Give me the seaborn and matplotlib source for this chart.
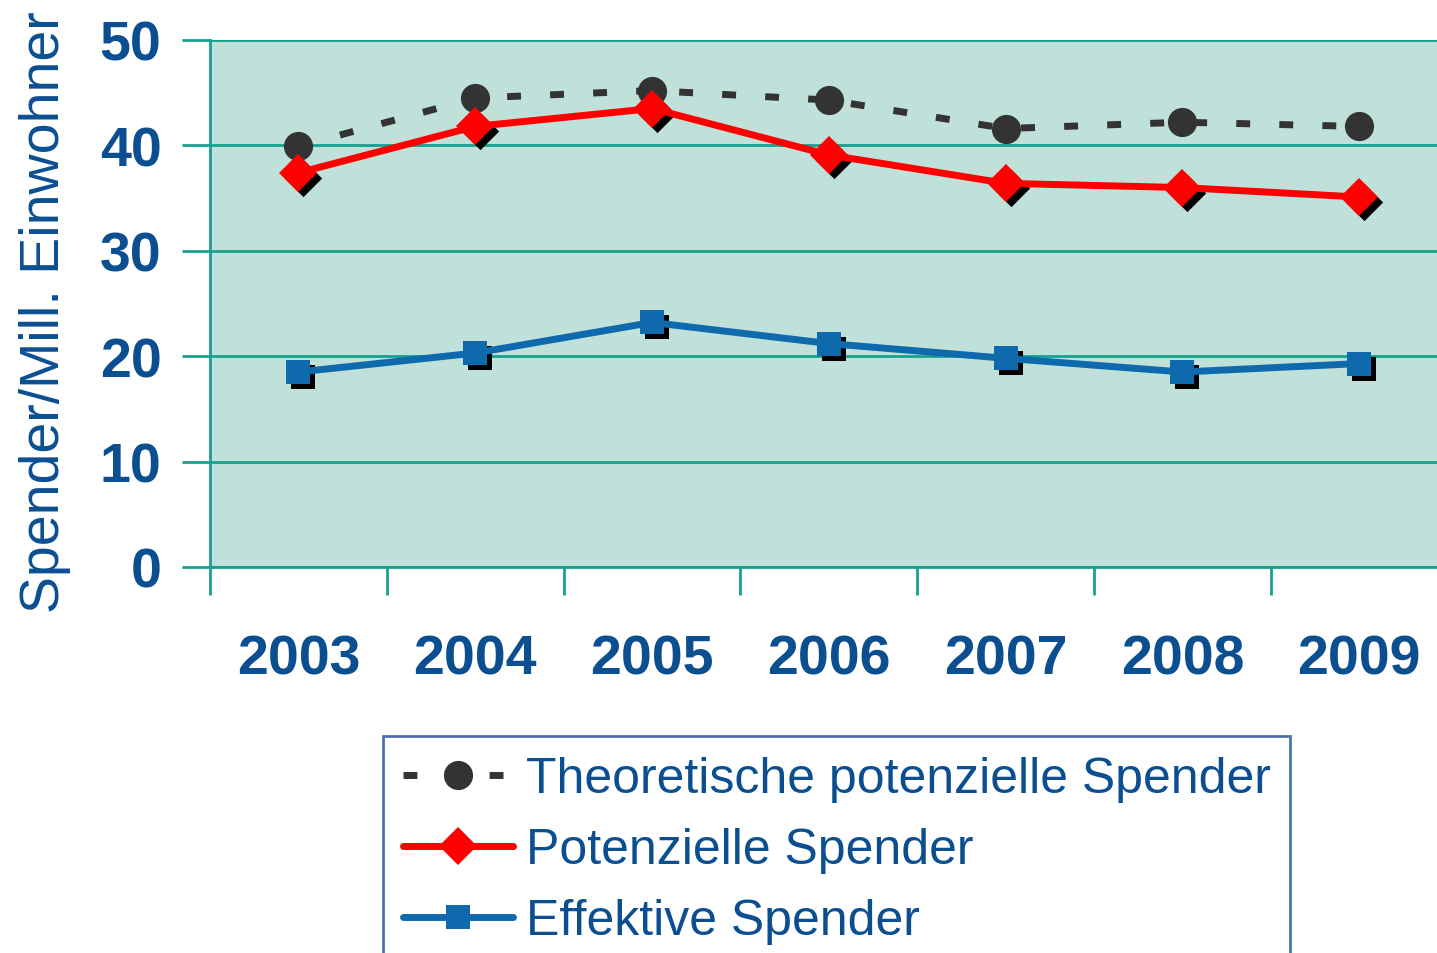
import matplotlib
matplotlib.use("Agg")
import matplotlib.pyplot as plt
from matplotlib.transforms import offset_copy
import numpy as np
import pandas as pd
import seaborn as sns

years = [2003, 2004, 2005, 2006, 2007, 2008, 2009]
theoretische = [39.9, 44.5, 45.2, 44.3, 41.6, 42.2, 41.8]
potenzielle = [37.4, 41.8, 43.5, 39.1, 36.4, 36.0, 35.1]
effektive = [18.5, 20.3, 23.2, 21.2, 19.8, 18.5, 19.3]

labels = ["Theoretische potenzielle Spender", "Potenzielle Spender", "Effektive Spender"]

BLUE_TXT = "#0b4f91"
TEAL = "#17a08f"
BG = "#bfe1da"

sns.set_style("white")
plt.rcParams["font.family"] = ["Liberation Sans", "DejaVu Sans"]

df = pd.DataFrame({"year": years, "theo": theoretische, "pot": potenzielle, "eff": effektive})

fig = plt.figure(figsize=(14.37, 9.54), dpi=100)
ax = fig.add_axes([210 / 1437, (954 - 568) / 954, 1237.6 / 1437, 527 / 954])
ax.set_facecolor(BG)

# black drop shadows behind the diamond / square markers
shadow = offset_copy(ax.transData, fig=fig, x=5, y=-5, units="dots")
sns.scatterplot(data=df, x="year", y="pot", marker="D", s=19 ** 2, color="black",
                linewidth=0, transform=shadow, ax=ax, zorder=3)
sns.scatterplot(data=df, x="year", y="eff", marker="s", s=17 ** 2, color="black",
                linewidth=0, transform=shadow, ax=ax, zorder=3)

sns.lineplot(data=df, x="year", y="theo", color="#333333", linewidth=5,
             linestyle=(0, (2.0, 4.2)), marker="o", markersize=21, markeredgewidth=0,
             label=labels[0], ax=ax, zorder=4)
sns.lineplot(data=df, x="year", y="pot", color="#ff0000", linewidth=5,
             marker="D", markersize=19, markeredgewidth=0, solid_capstyle="round",
             label=labels[1], ax=ax, zorder=4)
sns.lineplot(data=df, x="year", y="eff", color="#0e6aad", linewidth=5,
             marker="s", markersize=17, markeredgewidth=0, solid_capstyle="round",
             label=labels[2], ax=ax, zorder=4)

ax.set_xlim(2002.5, 2009.5)
ax.set_ylim(0, 50)
ax.set_yticks([0, 10, 20, 30, 40, 50])
ax.yaxis.grid(True, color=TEAL, linewidth=2)
ax.xaxis.grid(False)
ax.set_axisbelow(True)

ax.set_xticks(np.arange(2002.5, 2010, 1.0))
ax.set_xticklabels([])
ax.set_xticks(years, [str(y) for y in years], minor=True)
ax.tick_params(axis="x", which="major", bottom=True, length=20, width=2,
               color=TEAL, direction="out")
ax.tick_params(axis="x", which="minor", bottom=True, length=0, pad=48, labelsize=40,
               labelcolor=BLUE_TXT)
for t in ax.get_xticklabels(minor=True):
    t.set_fontweight("bold")
ax.tick_params(axis="y", left=True, length=20, width=2, color=TEAL, direction="out",
               pad=15, labelsize=40, labelcolor=BLUE_TXT)
for t in ax.get_yticklabels():
    t.set_fontweight("bold")

for side in ["top", "right"]:
    ax.spines[side].set_visible(False)
ax.spines["left"].set_color(TEAL)
ax.spines["left"].set_linewidth(2)
ax.spines["bottom"].set_color(TEAL)
ax.spines["bottom"].set_linewidth(2)

ax.set_xlabel("")
ax.set_ylabel("Spender/Mill. Einwohner", fontsize=40, color=BLUE_TXT)
ax.yaxis.set_label_coords(-0.112, 0.485)

leg = ax.legend(loc="upper left", bbox_to_anchor=(383 / 1437, (954 - 737) / 954),
                bbox_transform=fig.transFigure, borderaxespad=0, frameon=True,
                fancybox=False, fontsize=36, handlelength=2.2, handletextpad=0.25,
                labelspacing=0.5, borderpad=0.4, labelcolor=BLUE_TXT)
leg.get_frame().set_edgecolor("#1f4e99")
leg.get_frame().set_linewidth(2)
for line in leg.get_lines():
    line.set_solid_capstyle("round")

fig.savefig("out.png", dpi=100)
